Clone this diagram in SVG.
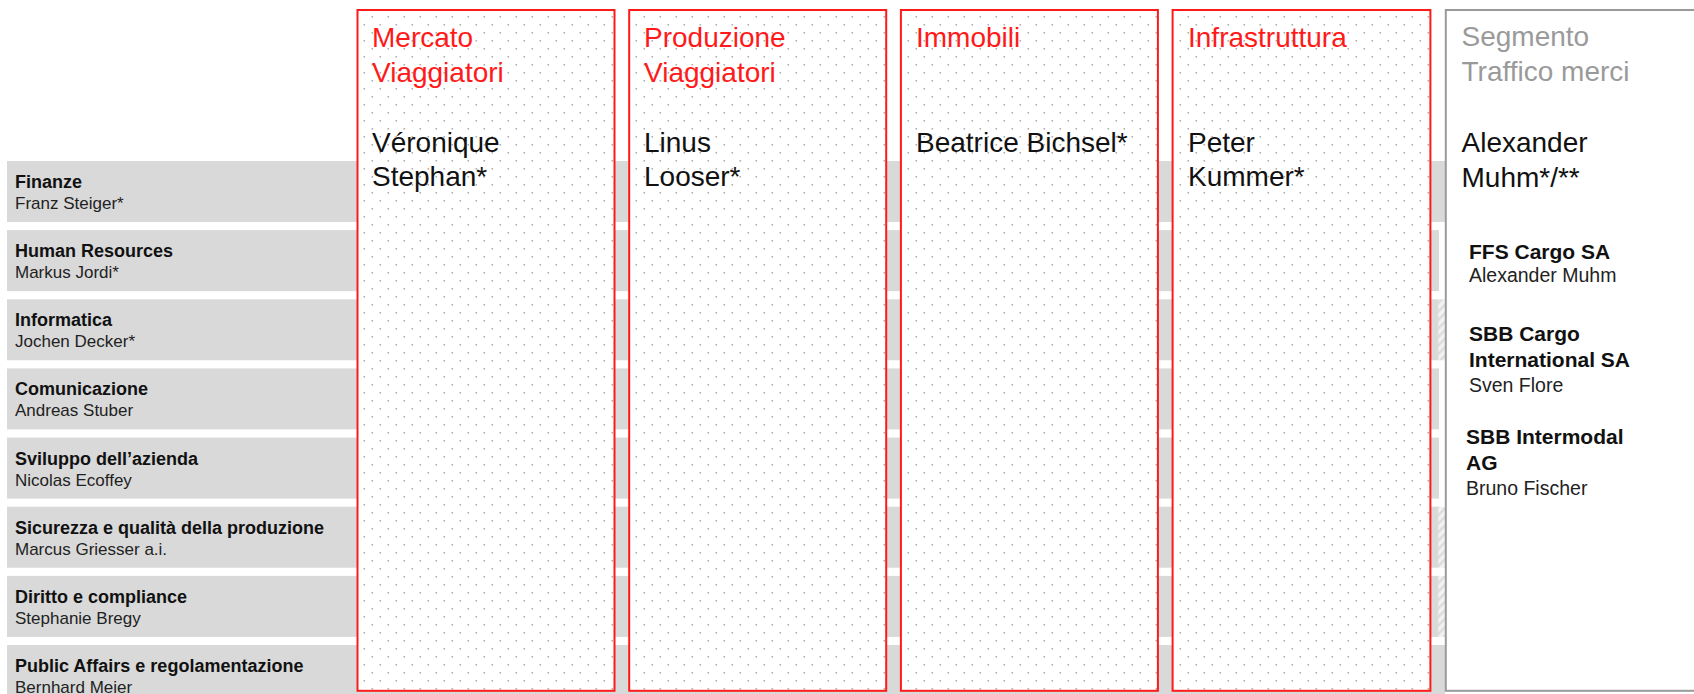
<svg xmlns="http://www.w3.org/2000/svg" width="1694" height="694" viewBox="0 0 1694 694">
<defs>
<pattern id="dots" x="0" y="0" width="16" height="16" patternUnits="userSpaceOnUse">
<rect x="3.5" y="0" width="1.6" height="1.6" fill="#b0b0b0"/>
<rect x="11.5" y="8" width="1.6" height="1.6" fill="#b0b0b0"/>
</pattern>
<pattern id="hatch" x="0" y="0" width="6" height="6" patternUnits="userSpaceOnUse" patternTransform="rotate(-45)">
<rect width="6" height="6" fill="#f2f2f2"/>
<rect width="6" height="2.5" fill="#dcdcdc"/>
</pattern>
<style>
.row{fill:#d9d9d9}
.hat{fill:url(#hatch)}
.col{fill:url(#dots);stroke:#ff1a1a;stroke-width:2}
.colbg{fill:#fff}
.seg{fill:#fff;stroke:#9a9a9a;stroke-width:2}
.t{font-family:"Liberation Sans",Arial,sans-serif;}
.lb{font-size:18px;font-weight:bold;fill:#111}
.ln{font-size:17px;fill:#222}
.ct{font-size:28px;fill:#ff1a1a}
.cn{font-size:28px;fill:#111}
.gt{font-size:28px;fill:#9a9a9a}
.rb{font-size:21px;font-weight:bold;fill:#111}
.rn{font-size:19.5px;fill:#222}
</style>
</defs>

<g id="rows">
<g id="row-finanze"><rect class="row" x="7" y="161" width="1439" height="61"/>
<text class="t lb" x="15" y="188">Finanze</text><text class="t ln" x="15" y="209">Franz Steiger*</text></g>
<g id="row-hr"><rect class="row" x="7" y="230.1" width="1432" height="61"/>
<text class="t lb" x="15" y="257.1">Human Resources</text><text class="t ln" x="15" y="278.1">Markus Jordi*</text></g>
<g id="row-informatica"><rect class="row" x="7" y="299.3" width="1432" height="61"/><rect class="hat" x="1438.3" y="299.3" width="7.5" height="61"/>
<text class="t lb" x="15" y="326.3">Informatica</text><text class="t ln" x="15" y="347.3">Jochen Decker*</text></g>
<g id="row-comunicazione"><rect class="row" x="7" y="368.4" width="1432" height="61"/>
<text class="t lb" x="15" y="395.4">Comunicazione</text><text class="t ln" x="15" y="416.4">Andreas Stuber</text></g>
<g id="row-sviluppo"><rect class="row" x="7" y="437.6" width="1432" height="61"/>
<text class="t lb" x="15" y="464.6">Sviluppo dell’azienda</text><text class="t ln" x="15" y="485.6">Nicolas Ecoffey</text></g>
<g id="row-sicurezza"><rect class="row" x="7" y="506.7" width="1432" height="61"/><rect class="hat" x="1438.3" y="506.7" width="7.5" height="61"/>
<text class="t lb" x="15" y="533.7">Sicurezza e qualità della produzione</text><text class="t ln" x="15" y="554.7">Marcus Griesser a.i.</text></g>
<g id="row-diritto"><rect class="row" x="7" y="575.9" width="1432" height="61"/><rect class="hat" x="1438.3" y="575.9" width="7.5" height="61"/>
<text class="t lb" x="15" y="602.9">Diritto e compliance</text><text class="t ln" x="15" y="623.9">Stephanie Bregy</text></g>
<g id="row-public"><rect class="row" x="7" y="645" width="1438" height="61"/>
<text class="t lb" x="15" y="672">Public Affairs e regolamentazione</text><text class="t ln" x="15" y="693">Bernhard Meier</text></g>
</g>

<g id="col-mercato">
<rect class="colbg" x="357.5" y="10" width="257" height="680.8"/>
<rect class="col" x="357.5" y="10" width="257" height="680.8"/>
<text class="t ct" x="372" y="46.7">Mercato</text>
<text class="t ct" x="372" y="81.5">Viaggiatori</text>
<text class="t cn" x="372" y="151.7">Véronique</text>
<text class="t cn" x="372" y="186">Stephan*</text>
</g>
<g id="col-produzione">
<rect class="colbg" x="629.2" y="10" width="257" height="680.8"/>
<rect class="col" x="629.2" y="10" width="257" height="680.8"/>
<text class="t ct" x="644" y="46.7">Produzione</text>
<text class="t ct" x="644" y="81.5">Viaggiatori</text>
<text class="t cn" x="644" y="151.7">Linus</text>
<text class="t cn" x="644" y="186">Looser*</text>
</g>
<g id="col-immobili">
<rect class="colbg" x="900.9" y="10" width="257" height="680.8"/>
<rect class="col" x="900.9" y="10" width="257" height="680.8"/>
<text class="t ct" x="916" y="46.7">Immobili</text>
<text class="t cn" x="916" y="151.7">Beatrice Bichsel*</text>
</g>
<g id="col-infrastruttura">
<rect class="colbg" x="1172.6" y="10" width="257.8" height="680.8"/>
<rect class="col" x="1172.6" y="10" width="257.8" height="680.8"/>
<text class="t ct" x="1188" y="46.7">Infrastruttura</text>
<text class="t cn" x="1188" y="151.7">Peter</text>
<text class="t cn" x="1188" y="186">Kummer*</text>
</g>
<g id="seg-traffico-merci">
<rect class="seg" x="1445.8" y="10" width="260" height="680.8"/>
<text class="t gt" x="1461.5" y="46">Segmento</text>
<text class="t gt" x="1461.5" y="81">Traffico merci</text>
<text class="t cn" x="1461.5" y="151.7">Alexander</text>
<text class="t cn" x="1461.5" y="186.5">Muhm*/**</text>
<text class="t rb" x="1469" y="259">FFS Cargo SA</text>
<text class="t rn" x="1469" y="282">Alexander Muhm</text>
<text class="t rb" x="1469" y="340.7">SBB Cargo</text>
<text class="t rb" x="1469" y="366.7">International SA</text>
<text class="t rn" x="1469" y="391.7">Sven Flore</text>
<text class="t rb" x="1466" y="444.3">SBB Intermodal</text>
<text class="t rb" x="1466" y="470">AG</text>
<text class="t rn" x="1466" y="495">Bruno Fischer</text>
</g>
</svg>
